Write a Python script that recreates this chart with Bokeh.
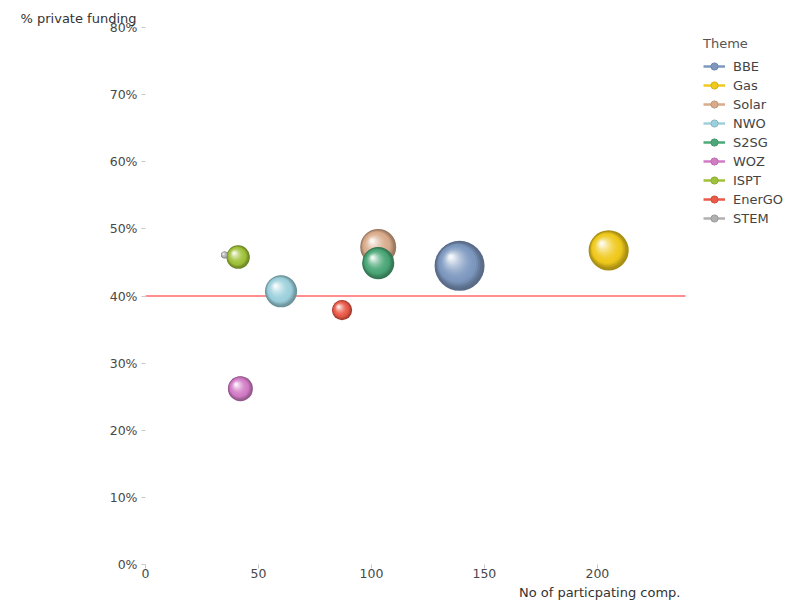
import math
from bokeh.plotting import figure
from bokeh.models import (Range1d, NumeralTickFormatter, FixedTicker, Title,
                          Legend, LegendItem, ColumnDataSource)
from bokeh.embed import file_html
from bokeh.resources import INLINE

# ---------------- data ----------------
themes = ["BBE", "Gas", "Solar", "NWO", "S2SG", "WOZ", "ISPT", "EnerGO", "STEM"]
companies = [139, 205, 103, 60, 103, 42, 41, 87, 35]
private_share = [0.445, 0.468, 0.473, 0.407, 0.449, 0.262, 0.458, 0.379, 0.461]
budget = [104, 67, 54, 43, 43, 26, 23, 17, 2]
colors = ["#7d98bf", "#efc91c", "#d9ab8b", "#9cd0dc", "#4ca878",
          "#d27cc6", "#a0c23a", "#ea5a48", "#b0b0b0"]
target_share = 0.40
x_axis_max = 239
x_ticks = [0, 50, 100, 150, 200]
y_ticks = [0.0, 0.1, 0.2, 0.3, 0.4, 0.5, 0.6, 0.7, 0.8]

# ---------------- layout ----------------
W, H = 799, 602
LEFT, TOP, BOTTOM = 145, 27, 38
AXIS_RIGHT_PX = 685          # where the x axis (and the target line) ends
RIGHT = 4                    # frame continues under the legend area
X0 = 0
Y0, Y1 = 0.0, 0.8
px_x = (AXIS_RIGHT_PX - LEFT) / (x_axis_max - X0)
frame_w = W - LEFT - RIGHT
X1 = X0 + frame_w / px_x
frame_h = H - TOP - BOTTOM
px_y = frame_h / (Y1 - Y0)
FONT = "DejaVu Sans"

p = figure(width=W, height=H, output_backend="svg", toolbar_location=None,
           x_range=Range1d(X0, X1), y_range=Range1d(Y0, Y1), title=None,
           min_border_left=LEFT, min_border_right=RIGHT,
           min_border_top=TOP, min_border_bottom=BOTTOM)
p.outline_line_color = None
p.xgrid.visible = False
p.ygrid.visible = False
p.background_fill_color = "white"
p.border_fill_color = "white"

for ax in (p.xaxis[0], p.yaxis[0]):
    ax.axis_line_color = None
    ax.major_tick_line_color = "#c8c8c8"
    ax.major_tick_in = 0
    ax.major_tick_out = 4
    ax.minor_tick_line_color = None
    ax.major_label_text_font = FONT
    ax.major_label_text_font_size = "12.5px"
    ax.major_label_text_color = "#484848"
p.xaxis.ticker = FixedTicker(ticks=x_ticks)
p.yaxis.ticker = FixedTicker(ticks=y_ticks)
p.yaxis.formatter = NumeralTickFormatter(format="0%")
p.yaxis.major_label_standoff = 4
p.xaxis.major_label_standoff = 0

# target line across the x-axis extent
p.segment(x0=[X0], y0=[target_share], x1=[x_axis_max], y1=[target_share],
          line_color="#ff2020", line_width=1.2)


def hex2rgb(h):
    h = h.lstrip("#")
    return [int(h[i:i + 2], 16) for i in (0, 2, 4)]


def mix(c1, c2, t):
    a, b = hex2rgb(c1), hex2rgb(c2)
    return "#%02x%02x%02x" % tuple(int(round(a[i] + (b[i] - a[i]) * t)) for i in range(3))


# ---------------- bubbles (layered shading) ----------------
N = 16
for name, cx, cy, b, col in zip(themes, companies, private_share, budget, colors):
    r = 2.45 * math.sqrt(b)
    dark = mix(col, "#000000", 0.30)
    xs, ys, sz, cs = [], [], [], []
    for k in range(N):
        t = k / (N - 1)
        f = 1 - 0.9 * t
        off = 0.34 * r * t
        xs.append(cx - off / px_x)
        ys.append(cy + off / px_y)
        sz.append(2 * r * f)
        if t < 0.3:
            u = t / 0.3
            cs.append(mix(dark, col, u * u * (3 - 2 * u)))
        else:
            u = (t - 0.3) / 0.7
            cs.append(mix(col, "#ffffff", (u ** 1.6) * 0.9))
    src = ColumnDataSource(dict(x=xs, y=ys, size=sz, color=cs))
    p.scatter("x", "y", size="size", source=src, fill_color="color",
              line_color=None, marker="circle")

# ---------------- legend ----------------
nan = float("nan")
items = []
for name, col in zip(themes, colors):
    lr = p.line(x=[nan, nan], y=[nan, nan], line_color=col, line_width=2.5)
    mr = p.scatter(x=[nan], y=[nan], marker="circle", fill_color=col,
                   line_color=mix(col, "#000000", 0.12), size=9)
    items.append(LegendItem(label=name, renderers=[lr, mr]))

legend = Legend(items=items, location=(558, 337), title="Theme",
                border_line_color=None, background_fill_alpha=0,
                padding=0, margin=0, spacing=1,
                glyph_width=22, glyph_height=18, label_height=18,
                label_standoff=8, label_text_font=FONT,
                label_text_font_size="13px", label_text_color="#444444",
                title_text_font=FONT, title_text_font_size="13px",
                title_text_font_style="normal", title_text_color="#555555",
                title_standoff=6)
p.add_layout(legend)

# ---------------- axis titles ----------------
p.add_layout(Title(text="% private funding", align="left", offset=20 - LEFT,
                   text_font=FONT, text_font_size="13px", text_font_style="normal",
                   text_color="#333333", standoff=3), "above")
p.add_layout(Title(text="No of particpating comp.", align="right",
                   offset=(W - RIGHT) - 680,
                   text_font=FONT, text_font_size="13px", text_font_style="normal",
                   text_color="#333333", standoff=4), "below")

open("out.html", "w").write(file_html(p, INLINE))
